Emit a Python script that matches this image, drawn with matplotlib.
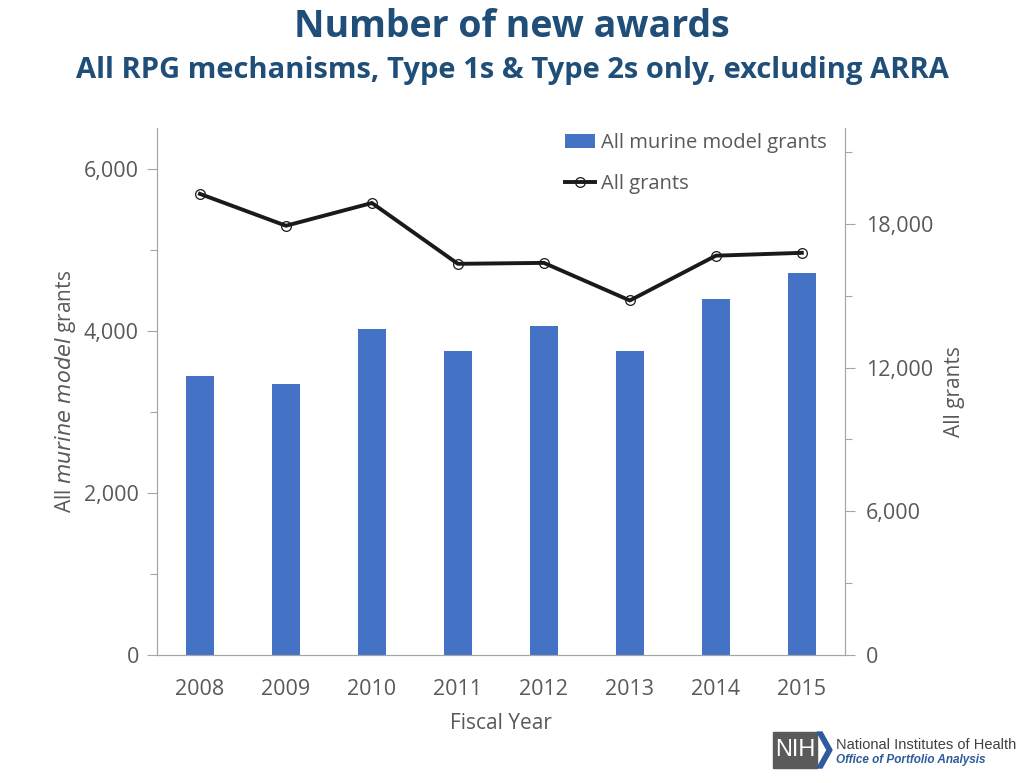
import numpy as np
import matplotlib
matplotlib.use("Agg")
import matplotlib.pyplot as plt
from matplotlib.ticker import MultipleLocator, FuncFormatter
from matplotlib.patches import Rectangle, Polygon

plt.rcParams['font.family'] = ['Open Sans', 'DejaVu Sans']

# data
years = ['2008', '2009', '2010', '2011', '2012', '2013', '2014', '2015']
murine = [3440, 3345, 4025, 3755, 4060, 3755, 4385, 4715]
all_grants = [19250, 17920, 18870, 16330, 16370, 14800, 16670, 16790]

blue = '#4472C4'
grey = '#595959'
axcol = '#A6A6A6'

fig = plt.figure(figsize=(10.24, 7.83), dpi=100)
ax = fig.add_axes([0.1533, 0.1635, 0.6717, 0.673])
ax2 = ax.twinx()

x = np.arange(len(years))
b = ax.bar(x, murine, width=0.32, color=blue, label='All murine model grants', zorder=2)
ln, = ax2.plot(x, all_grants, color='#1a1a1a', lw=2.8, marker='o', ms=7,
               mfc='none', mec='#1a1a1a', mew=0.9, label='All grants')

ax.set_xlim(-0.5, 7.5)
ax.set_ylim(0, 6500)
ax2.set_ylim(0, 22000)
ax.set_xticks(x)
ax.set_xticklabels(years)
ax.yaxis.set_major_locator(MultipleLocator(2000))
ax.yaxis.set_minor_locator(MultipleLocator(1000))
ax2.yaxis.set_major_locator(MultipleLocator(6000))
ax2.yaxis.set_minor_locator(MultipleLocator(3000))
fmt = FuncFormatter(lambda v, p: f'{int(v):,}')
ax.yaxis.set_major_formatter(fmt)
ax2.yaxis.set_major_formatter(fmt)

for a in (ax, ax2):
    for s in a.spines.values():
        s.set_color(axcol)
    a.spines['top'].set_visible(False)
    a.tick_params(colors=axcol, labelcolor=grey, labelsize=15.5, length=7, width=0.8)
    a.tick_params(which='minor', colors=axcol, length=5, width=0.8)
ax.tick_params(axis='x', length=0, pad=17)
ax.tick_params(axis='y', pad=6)
ax2.tick_params(axis='y', pad=8)

ax.set_xlabel('Fiscal Year', fontsize=15, color=grey, labelpad=10)
ax.set_ylabel('All $\\it{murine\\ model}$ grants', fontsize=15, color=grey, labelpad=4)
ax2.set_ylabel('All grants', fontsize=15, color=grey, labelpad=8)

ax2.legend([b, ln], ['All murine model grants', 'All grants'], loc='upper right',
           bbox_to_anchor=(1.0, 1.025), frameon=False, fontsize=14.5, labelcolor=grey,
           handlelength=1.5, handletextpad=0.3, labelspacing=1.05)

fig.text(0.5, 0.966, 'Number of new awards', ha='center', va='center',
         fontsize=27, fontweight='bold', color='#1F4E79')
fig.text(0.5, 0.91, 'All RPG mechanisms, Type 1s & Type 2s only, excluding ARRA',
         ha='center', va='center', fontsize=21, fontweight='bold', color='#1F4E79')

# NIH logo
fig.patches.append(Rectangle((773 / 1024, 1 - 768 / 783), 44 / 1024, 36 / 783,
                             transform=fig.transFigure, color='#5A5A5A'))
fig.patches.append(Polygon([(817 / 1024, 1 - 732 / 783), (822 / 1024, 1 - 732 / 783),
                            (832 / 1024, 1 - 750 / 783), (822 / 1024, 1 - 768 / 783),
                            (817 / 1024, 1 - 768 / 783), (827 / 1024, 1 - 750 / 783)],
                           closed=True, transform=fig.transFigure, color='#2E5C9A'))
fig.text(795 / 1024, 1 - 750 / 783, 'NIH', ha='center', va='center', fontsize=17,
         color='white', family='Liberation Sans')
fig.text(836 / 1024, 1 - 745 / 783, 'National Institutes of Health', ha='left',
         va='center', fontsize=10.5, color='#404040', family='Liberation Sans')
fig.text(836 / 1024, 1 - 760 / 783, 'Office of Portfolio Analysis', ha='left',
         va='center', fontsize=8.5, color='#2E5C9A', style='italic', fontweight='bold',
         family='Liberation Sans')

fig.savefig('out.png', dpi=100)
